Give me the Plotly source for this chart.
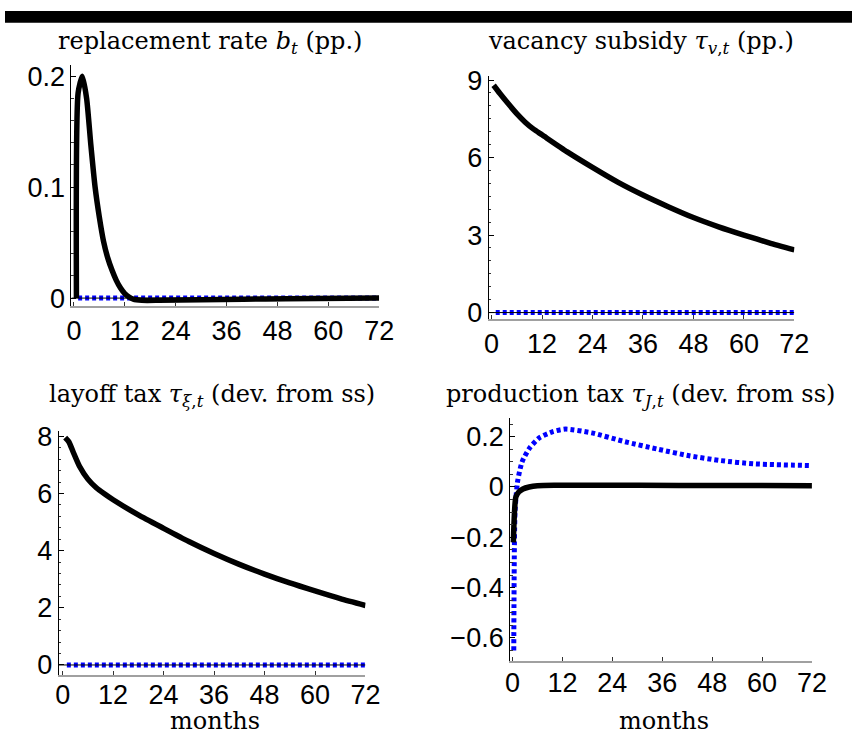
import plotly.graph_objects as go

W, H = 867, 745

# ---------------- data ----------------
# Panel 1: replacement rate b_t (pp.)
b_months = [0.6, 1, 2, 3, 4, 5, 6, 7, 8, 9, 10, 11, 12, 13, 14, 16, 20, 30, 40, 50, 72]
b_black = [0, 0.185, 0.2, 0.18, 0.138, 0.1, 0.073, 0.051, 0.036, 0.025, 0.016,
           0.009, 0.004, 0.001, -0.001, -0.002, -0.002, -0.0015, -0.001, -0.0005, 0]
b_blue_months = [1, 72]
b_blue = [0, 0]

# Panel 2: vacancy subsidy tau_{v,t} (pp.)
v_months = [0.5, 2, 4, 6, 8, 10, 12, 18, 24, 30, 36, 42, 48, 54, 60, 66, 72]
v_black = [8.8, 8.48, 8.08, 7.7, 7.37, 7.1, 6.88, 6.22, 5.62, 5.05, 4.55, 4.1,
           3.68, 3.32, 3.0, 2.7, 2.43]
v_blue_months = [1, 72]
v_blue = [0, 0]

# Panel 3: layoff tax tau_{xi,t} (dev. from ss)
x_months = [0.6, 1.5, 2.5, 4, 6, 8, 10, 12, 18, 24, 30, 36, 42, 48, 54, 60, 66, 72]
x_black = [7.95, 7.8, 7.45, 6.95, 6.5, 6.2, 5.98, 5.78, 5.25, 4.78, 4.32, 3.9,
           3.52, 3.18, 2.87, 2.59, 2.32, 2.08]
x_blue_months = [1, 72]
x_blue = [0, 0]

# Panel 4: production tax tau_{J,t} (dev. from ss)
j_black_months = [0.2, 0.8, 1.5, 2.5, 4, 6, 10, 20, 40, 72]
j_black = [-0.22, -0.04, -0.02, -0.008, 0.0, 0.005, 0.007, 0.007, 0.006, 0.005]
j_blue_months = [0.3, 0.6, 1.2, 2.3, 4.2, 6.5, 9.7, 12.8, 19, 27, 35, 42.5, 50, 58, 72]
j_blue = [-0.65, -0.1, 0.02, 0.1, 0.157, 0.196, 0.22, 0.23, 0.215, 0.18, 0.15,
          0.124, 0.105, 0.092, 0.085]

x_ticks = [0, 12, 24, 36, 48, 60, 72]
titles = [
    "replacement rate <i>b</i><sub><i>t</i></sub> (pp.)",
    "vacancy subsidy <i>τ</i><sub><i>v</i>,<i>t</i></sub> (pp.)",
    "layoff tax <i>τ</i><sub><i>ξ</i>,<i>t</i></sub> (dev. from ss)",
    "production tax <i>τ</i><sub><i>J</i>,<i>t</i></sub> (dev. from ss)",
]

# ---------------- layout geometry (pixels) ----------------
panels = [
    dict(px=(68, 383), py=(55, 303), xr=[-0.58, 72], yr=[-0.007, 0.2105],
         yt=[0, 0.1, 0.2], ytt=["0", "0.1", "0.2"], ym=0.02, title_xy=(210, 32),
         months=False, xstand=0),
    dict(px=(495, 808), py=(67, 316), xr=[-0.7, 72], yr=[-0.23, 9.15],
         yt=[0, 3, 6, 9], ytt=["0", "3", "6", "9"], ym=0.5, title_xy=(651, 32),
         months=False, xstand=0),
    dict(px=(55, 369), py=(432, 682), xr=[-0.93, 72], yr=[-0.34, 8.17],
         yt=[0, 2, 4, 6, 8], ytt=["0", "2", "4", "6", "8"], ym=0.4, title_xy=(212, 395),
         months=True, xstand=-5),
    dict(px=(517, 826), py=(418, 668), xr=[-0.59, 72], yr=[-0.692, 0.275],
         yt=[-0.6, -0.4, -0.2, 0, 0.2], ytt=["−0.6", "−0.4", "−0.2", "0", "0.2"], ym=0.05,
         title_xy=(650, 395), months=True, xstand=-3),
]

series = [
    (b_months, b_black, b_blue_months, b_blue, True),
    (v_months, v_black, v_blue_months, v_blue, True),
    (x_months, x_black, x_blue_months, x_blue, True),
    (j_black_months, j_black, j_blue_months, j_blue, False),
]

fig = go.Figure()
tick_font = dict(family="Liberation Sans, Arial, sans-serif", size=27, color="black")
serif = "DejaVu Serif, Liberation Serif, serif"
title_size = 24

shapes = [dict(type="rect", xref="paper", yref="paper", x0=0, x1=1,
               y0=1 - 12 / H, y1=1, fillcolor="black", line=dict(width=0), layer="above")]
annotations = []

for i, (p, s) in enumerate(zip(panels, series)):
    n = "" if i == 0 else str(i + 1)
    xa, ya = "x" + n, "y" + n
    bm, bv, um, uv, zero_ref = s
    # blue dotted
    fig.add_trace(go.Scatter(x=um, y=uv, xaxis=xa, yaxis=ya, mode="lines",
                             line=dict(color="#0000ff", width=5, dash="4px,3px",
                                       shape="spline", smoothing=0.6),
                             hoverinfo="skip"))
    # black solid
    fig.add_trace(go.Scatter(x=bm, y=bv, xaxis=xa, yaxis=ya, mode="lines",
                             line=dict(color="black", width=5.5, shape="spline", smoothing=0.6),
                             hoverinfo="skip"))
    if zero_ref:
        shapes.append(dict(type="line", xref=xa, yref=ya, x0=p["xr"][0], x1=72, y0=0, y1=0,
                           line=dict(color="black", width=1), layer="above"))

    xd = [p["px"][0] / W, p["px"][1] / W]
    yd = [1 - p["py"][1] / H, 1 - p["py"][0] / H]
    fig.layout["xaxis" + n] = dict(
        domain=xd, range=p["xr"], anchor=ya, tickvals=x_ticks, ticktext=[str(t) for t in x_ticks],
        ticks="inside", ticklen=4, tickcolor="#333", tickwidth=1,
        showline=True, linecolor="#a0a0a0", linewidth=1.6, showgrid=False, zeroline=False,
        tickfont=tick_font, ticklabelstandoff=p["xstand"], fixedrange=True)
    fig.layout["yaxis" + n] = dict(
        domain=yd, range=p["yr"], anchor=xa, tickvals=p["yt"], ticktext=p["ytt"],
        ticks="inside", ticklen=5, tickcolor="black", tickwidth=1,
        minor=dict(dtick=p["ym"], ticks="inside", ticklen=2.5, tickcolor="#333", tickwidth=0.8),
        showline=True, linecolor="black", linewidth=1, showgrid=False, zeroline=False,
        tickfont=tick_font, fixedrange=True)

    tx, ty = p["title_xy"]
    annotations.append(dict(text=titles[i], x=tx / W, y=1 - ty / H, xref="paper", yref="paper",
                            xanchor="center", yanchor="middle", showarrow=False,
                            font=dict(family=serif, size=title_size, color="black")))
    if p["months"]:
        annotations.append(dict(text="months", x=(p["px"][0] + p["px"][1]) / 2 / W + 0.004,
                                y=1 - 730 / H, xref="paper", yref="paper",
                                xanchor="center", yanchor="middle", showarrow=False,
                                font=dict(family=serif, size=title_size, color="black")))

fig.update_layout(width=W, height=H, margin=dict(l=0, r=0, t=0, b=0),
                  paper_bgcolor="white", plot_bgcolor="white", showlegend=False,
                  shapes=shapes, annotations=annotations)

fig.write_html("out.html", config={"displayModeBar": False},
               post_script="document.documentElement.style.margin='0';"
                           "document.body.style.margin='0';document.body.style.padding='0';"
                           "document.documentElement.style.overflow='hidden';")
